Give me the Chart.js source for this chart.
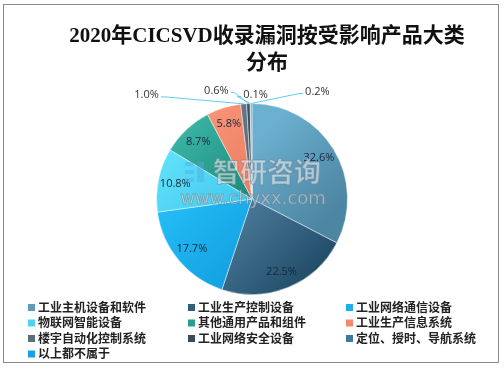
<!DOCTYPE html>
<html>
<head>
<meta charset="utf-8">
<script src="https://cdn.jsdelivr.net/npm/chart.js@4/dist/chart.umd.min.js"></script>
<style>
  body { margin: 0; background: #fff; }
  #wrap { width: 504px; height: 369px; }
</style>
</head>
<body>
<div id="wrap"><canvas id="pieChart"></canvas></div>
<script>
const titleLines = ['2020年CICSVD收录漏洞按受影响产品大类', '分布'];
const categories = ['工业主机设备和软件', '工业生产控制设备', '工业网络通信设备', '物联网智能设备', '其他通用产品和组件',
  '工业生产信息系统', '楼宇自动化控制系统', '工业网络安全设备', '定位、授时、导航系统', '以上都不属于'];
const shares = [32.6, 22.5, 17.7, 10.8, 8.7, 5.8, 1.0, 0.6, 0.1, 0.2];
const sliceColors = ['#5b9cbd', '#345d7a', '#1eaeec', '#4fd3f1', '#2b9d8f', '#f4896b', '#5c6e7e', '#3c4a58', '#3e7aa0', '#1a9fe8'];
const sliceLight = ['#6cb0d0', '#4c7c9b', '#24bdf7', '#62e2fb', '#3db7a7', '#f8967a', '#6a7d8e', '#4a5968', '#4a88b0', '#2aafef'];
const sliceDark = ['#4c86a3', '#1f4a66', '#129fe0', '#3ec6eb', '#1a887a', '#ec7a5c', '#4e6070', '#2f3b47', '#336c90', '#1590d8'];

// small slices get their label pulled out with a leader line (dx, dy from the outer edge)
const pulledLabels = { 6: [-97, -9], 7: [-32, -13], 8: [5, -9], 9: [66, -12] };

function sliceFill(ctx) {
  const chart = ctx.chart;
  const area = chart.chartArea;
  if (!area) return sliceColors[ctx.dataIndex];
  const cx = (area.left + area.right) / 2, cy = (area.top + area.bottom) / 2;
  const r = Math.min(area.right - area.left, area.bottom - area.top) / 2;
  const total = shares.reduce((a, b) => a + b, 0);
  let before = 0;
  for (let k = 0; k < ctx.dataIndex; k++) before += shares[k];
  const mid = -Math.PI / 2 + (before + shares[ctx.dataIndex] / 2) / total * Math.PI * 2;
  const mx = cx + Math.cos(mid) * r * 0.55, my = cy + Math.sin(mid) * r * 0.55;
  const d = r * 0.4;
  const g = chart.ctx.createLinearGradient(mx - d, my - d, mx + d, my + d);
  g.addColorStop(0, sliceLight[ctx.dataIndex]);
  g.addColorStop(1, sliceDark[ctx.dataIndex]);
  return g;
}

const labelPlugin = {
  id: 'pieLabels',
  afterDatasetsDraw(chart) {
    const c = chart.ctx;
    const arcs = chart.getDatasetMeta(0).data;
    c.save();
    c.font = '11px "Open Sans", "Liberation Sans", sans-serif';
    c.textAlign = 'center';
    c.textBaseline = 'middle';
    arcs.forEach((arc, i) => {
      const mid = (arc.startAngle + arc.endAngle) / 2;
      const text = shares[i].toFixed(1) + '%';
      const pull = pulledLabels[i];
      if (!pull) {
        const r = arc.outerRadius * 0.82;
        c.fillStyle = '#15283a';
        c.fillText(text, arc.x + Math.cos(mid) * r, arc.y + Math.sin(mid) * r);
        return;
      }
      const ox = arc.x + Math.cos(mid) * arc.outerRadius;
      const oy = arc.y + Math.sin(mid) * arc.outerRadius;
      const lx = ox + pull[0], ly = oy + pull[1];
      const w = c.measureText(text).width;
      const side = pull[0] < 0 ? 1 : -1;
      const ex = lx + side * (w / 2 + 2);
      c.strokeStyle = '#62cdf3';
      c.lineWidth = 1;
      c.beginPath();
      c.moveTo(ox, oy);
      c.lineTo(ex + side * 4, ly + 2);
      c.lineTo(ex, ly + 2);
      c.stroke();
      c.fillStyle = '#333';
      c.fillText(text, lx, ly);
    });
    // watermark
    c.lineWidth = 1;
    c.strokeStyle = 'rgba(110,125,140,0.55)';
    c.fillStyle = 'rgba(245,248,250,0.55)';
    c.font = 'bold 27px "Noto Sans CJK SC", sans-serif';
    c.fillText('智研咨询', 267, 172);
    c.strokeText('智研咨询', 267, 172);
    c.fillStyle = 'rgba(80,170,230,0.45)';
    c.fillRect(185, 162, 9, 4);
    c.fillRect(197, 162, 7, 20);
    c.fillRect(185, 170, 9, 4);
    c.fillRect(185, 178, 9, 4);
    c.fillStyle = 'rgba(245,248,250,0.55)';
    c.font = '18px "DejaVu Sans", sans-serif';
    c.fillText('www.chyxx.com', 253, 199);
    c.strokeText('www.chyxx.com', 253, 199);
    c.restore();
  },
  afterDraw(chart) {
    const c = chart.ctx;
    c.save();
    c.strokeStyle = '#8a8a8a';
    c.lineWidth = 1;
    c.strokeRect(3.5, 4.5, 495, 358);
    // title
    c.fillStyle = '#111';
    c.textAlign = 'center';
    c.textBaseline = 'middle';
    c.font = 'bold 21px "Liberation Serif", "Noto Sans CJK SC", serif';
    c.fillText(titleLines[0], 267, 37);
    c.fillText(titleLines[1], 267, 64);
    // legend in three columns
    const colX = [28, 188, 346];
    c.textAlign = 'left';
    c.font = 'bold 12px "Noto Sans CJK SC", sans-serif';
    categories.forEach((name, i) => {
      const x = colX[i % 3];
      const y = 307 + Math.floor(i / 3) * 15.5;
      c.fillStyle = sliceColors[i];
      c.fillRect(x, y - 3, 7, 7);
      c.fillStyle = '#222';
      c.fillText(name, x + 10, y);
    });
    c.restore();
  }
};

new Chart(document.getElementById('pieChart'), {
  type: 'pie',
  data: {
    labels: categories,
    datasets: [{
      data: shares,
      backgroundColor: sliceFill,
      borderColor: 'rgba(255,255,255,0.45)',
      borderWidth: 1
    }]
  },
  options: {
    responsive: true,
    maintainAspectRatio: false,
    animation: false,
    layout: { padding: { top: 103, bottom: 74 } },
    plugins: {
      legend: { display: false },
      tooltip: { enabled: false },
      title: { display: false }
    }
  },
  plugins: [labelPlugin]
});
</script>
</body>
</html>
